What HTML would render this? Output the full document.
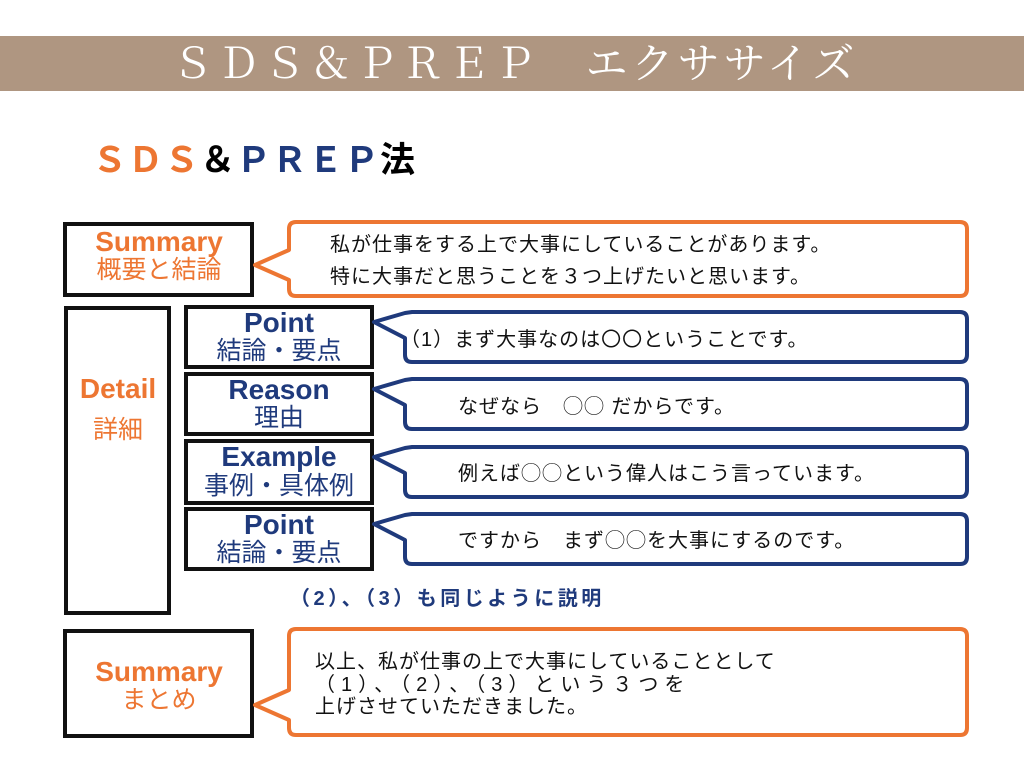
<!DOCTYPE html>
<html><head><meta charset="utf-8"><style>
html,body{margin:0;padding:0;background:#fff}
svg{display:block}
text{font-family:"Liberation Sans","Noto Sans CJK JP",sans-serif}
</style></head><body>
<svg width="1024" height="768" viewBox="0 0 1024 768">
<rect x="0" y="36" width="1024" height="55" fill="#af9681"/>
<text x="515" y="78" text-anchor="middle" fill="#fff" font-size="42" style="font-family:'Liberation Serif','Noto Serif CJK SC',serif;letter-spacing:4px">ＳＤＳ＆ＰＲＥＰ　エクササイズ</text>
<text x="92" y="172" font-size="35" font-weight="bold" style="letter-spacing:1px"><tspan fill="#ed7632">ＳＤＳ</tspan><tspan fill="#000">＆</tspan><tspan fill="#1f3a7c">ＰＲＥＰ</tspan><tspan fill="#000">法</tspan></text>

<g fill="#fff" stroke="#111" stroke-width="4">
<rect x="65" y="224" width="187" height="71"/>
<rect x="66" y="308" width="103" height="305"/>
<rect x="186" y="307" width="186" height="60"/>
<rect x="186" y="374" width="186" height="60"/>
<rect x="186" y="441" width="186" height="62"/>
<rect x="186" y="509" width="186" height="60"/>
<rect x="65" y="631" width="187" height="105"/>
</g>

<g fill="#fff" stroke-width="4" stroke-linejoin="round">
<path d="M296,222 H960 Q967,222 967,229 V289 Q967,296 960,296 H296 Q289,296 289,289 V280 L255,265 L289,250 V229 Q289,222 296,222 Z" stroke="#ed7632"/>
<path d="M296,629 H960 Q967,629 967,636 V728 Q967,735 960,735 H296 Q289,735 289,728 V720 L255,705 L289,690 V636 Q289,629 296,629 Z" stroke="#ed7632"/>
<path d="M412,312 H960 Q967,312 967,319 V355 Q967,362 960,362 H412 Q405,362 405,355 V338 L374,322 L405,313 Z" stroke="#1f3a7c"/>
<path d="M412,379 H960 Q967,379 967,386 V422 Q967,429 960,429 H412 Q405,429 405,422 V405 L374,389 L405,380 Z" stroke="#1f3a7c"/>
<path d="M412,447 H960 Q967,447 967,454 V490 Q967,497 960,497 H412 Q405,497 405,490 V473 L374,457 L405,448 Z" stroke="#1f3a7c"/>
<path d="M412,514 H960 Q967,514 967,521 V557 Q967,564 960,564 H412 Q405,564 405,557 V540 L374,524 L405,515 Z" stroke="#1f3a7c"/>
</g>

<g text-anchor="middle" font-size="28">
<text x="159" y="251" fill="#ed7632" font-weight="bold">Summary</text>
<text x="159" y="278" fill="#ed7632" font-size="25">概要と結論</text>
<text x="118" y="398" fill="#ed7632" font-weight="bold">Detail</text>
<text x="118" y="438" fill="#ed7632" font-size="25">詳細</text>
<text x="279" y="332" fill="#1f3a7c" font-weight="bold">Point</text>
<text x="279" y="359" fill="#1f3a7c" font-size="25">結論・要点</text>
<text x="279" y="399" fill="#1f3a7c" font-weight="bold">Reason</text>
<text x="279" y="426" fill="#1f3a7c" font-size="25">理由</text>
<text x="279" y="466" fill="#1f3a7c" font-weight="bold">Example</text>
<text x="279" y="494" fill="#1f3a7c" font-size="25">事例・具体例</text>
<text x="279" y="534" fill="#1f3a7c" font-weight="bold">Point</text>
<text x="279" y="561" fill="#1f3a7c" font-size="25">結論・要点</text>
<text x="159" y="681" fill="#ed7632" font-weight="bold">Summary</text>
<text x="159" y="708" fill="#ed7632" font-size="25">まとめ</text>
</g>

<g font-size="20" fill="#111" style="letter-spacing:1px">
<text x="330" y="251">私が仕事をする上で大事にしていることがあります。</text>
<text x="330" y="283">特に大事だと思うことを３つ上げたいと思います。</text>
<text x="400" y="346">（1）まず大事なのは〇〇ということです。</text>
<text x="458" y="413">なぜなら　◯◯ だからです。</text>
<text x="458" y="480">例えば◯◯という偉人はこう言っています。</text>
<text x="458" y="547">ですから　まず◯◯を大事にするのです。</text>
<text x="315" y="668">以上、私が仕事の上で大事にしていることとして</text>
<text x="315" y="691" style="letter-spacing:6px">（1）、（2）、（3）という３つを</text>
<text x="315" y="713">上げさせていただきました。</text>
</g>
<text x="290" y="605" font-size="20" font-weight="bold" fill="#1f3a7c" style="letter-spacing:3.5px">（2）、（3）も同じように説明</text>
</svg>
</body></html>
